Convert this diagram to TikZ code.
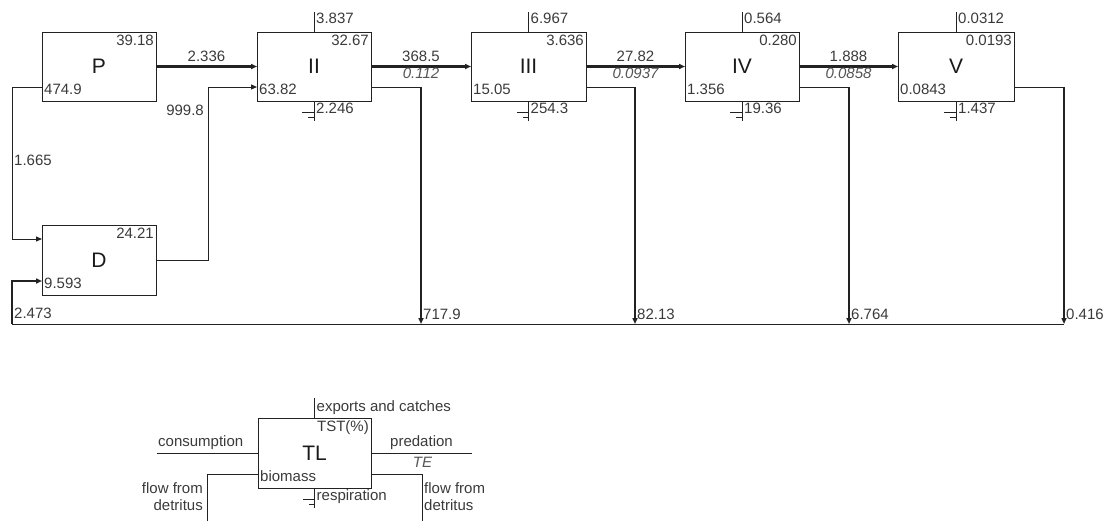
\documentclass[tikz,border=0pt]{standalone}
\usepackage{fontspec}
\setmainfont{Liberation Sans}
\usetikzlibrary{arrows.meta,calc}
\definecolor{linec}{HTML}{222222}
\definecolor{numc}{HTML}{3A3A3A}
\definecolor{effc}{HTML}{555555}
\definecolor{labc}{HTML}{1A1A1A}
\begin{document}
\begin{tikzpicture}[x=1pt,y=-1pt,
  box/.style={draw=linec, line width=1pt, minimum width=114pt, minimum height=69pt,
    inner sep=0pt, outer sep=0pt, font=\fontsize{21}{21}\selectfont, text=labc},
  num/.style={inner sep=0pt, font=\fontsize{15}{15}\selectfont, text=numc},
  eff/.style={inner sep=0pt, font=\fontsize{15}{15}\selectfont\itshape, text=effc},
  flow/.style={line width=2.8pt, draw=linec},
  thinline/.style={line width=1pt, draw=linec},
  tip/.style={-{Triangle[length=6pt,width=5pt]}},
]
\useasboundingbox (0,0) rectangle (1110,520);

% boxes
\node[box] (P) at (99,66.5) {P};
\node[box] (II) at (314,66.5) {II};
\node[box, minimum width=115pt] (III) at (528.5,66.5) {III};
\node[box] (IV) at (742,66.5) {IV};
\node[box, minimum width=116pt] (V) at (956,66.5) {V};
\node[box, minimum height=70pt] (D) at (99,260) {D};
\node[box, minimum width=113pt, minimum height=70pt] (TL) at (314.5,453) {TL};

% inner numbers (top right / bottom left)
\foreach \n/\t/\b in {P/39.18/474.9, II/32.67/63.82, III/3.636/15.05, IV/0.280/1.356, V/0.0193/0.0843, D/24.21/9.593}{
  \node[num, anchor=base east] at ([xshift=-2pt,yshift=-13pt]\n.north east) {\t};
  \node[num, anchor=base west] at ([xshift=2pt,yshift=7pt]\n.south west) {\b};
}

% exports and respiration
\foreach \n/\e/\r in {II/3.837/2.246, III/6.967/254.3, IV/0.564/19.36, V/0.0312/1.437}{
  \draw[thinline] (\n.north) -- ++(0,-20) coordinate (\n-ex);
  \node[num, anchor=base west] at ([xshift=2pt,yshift=-11pt]\n-ex) {\e};
  \draw[thinline] (\n.south) -- ++(0,20);
  \draw[thinline] ([yshift=-11pt]\n.south) -- ++(-12,0);
  \draw[thinline] ([yshift=-16pt]\n.south) -- ++(-6,0);
  \node[num, anchor=base west] at ([xshift=2pt,yshift=-12pt]\n.south) {\r};
}

% predation flows
\draw[flow,tip] (P.east) -- (II.west);
\draw[flow,tip] (II.east) -- (III.west);
\draw[flow,tip] (III.east) -- (IV.west);
\draw[flow,tip] (IV.east) -- (V.west);
\node[num, anchor=base] at ($(P.east)!0.5!(II.west)+(0,-5.5)$) {2.336};
\foreach \a/\b/\f/\te in {II/III/368.5/0.112, III/IV/27.82/0.0937, IV/V/1.888/0.0858}{
  \node[num, anchor=base] at ($(\a.east)!0.5!(\b.west)+(0,-5.5)$) {\f};
  \node[eff, anchor=base] at ($(\a.east)!0.5!(\b.west)+(0,11.5)$) {\te};
}

% detritus line
\coordinate (detL) at (12,324);
\coordinate (detR) at (1064,324);
\draw[thinline] (detR) -- (detL);
\draw[line width=1.8pt, draw=linec, tip] (detL) -- ++(0,-43) -- ([yshift=-21pt]D.west);
\node[num, anchor=base west] at (14,318) {2.473};

% flows to detritus
\foreach \n/\dx/\v in {II/50/717.9, III/49/82.13, IV/50/6.764, V/50/0.416}{
  \draw[thinline] ([yshift=-20.5pt]\n.east) -- ++(\dx,0) coordinate (\n-c);
  \draw[flow,tip] (\n-c) -- (\n-c |- detL);
  \node[num, anchor=base west] at ($(\n-c |- detL)+(2,-5)$) {\v};
}

% P to D, D to II
\draw[thinline,tip] ([yshift=-20.5pt]P.west) -- ++(-30,0) |- ([yshift=21pt]D.west);
\node[num, anchor=base west] at (14,165) {1.665};
\draw[thinline,tip] (D.east) -- ++(52,0) |- ([yshift=-20.5pt]II.west);
\node[num, anchor=base east] at (204,115) {999.8};

% legend
\node[num, anchor=base east] at ([xshift=-2pt,yshift=-13pt]TL.north east) {TST(\%)};
\node[num, anchor=base west] at ([xshift=2pt,yshift=7pt]TL.south west) {biomass};
\draw[thinline] (TL.north) -- ++(0,-20) coordinate (TL-ex);
\node[num, anchor=base west] at ([xshift=2pt,yshift=-13pt]TL-ex) {exports and catches};
\draw[thinline] (TL.south) -- ++(0,20);
\draw[thinline] ([yshift=-11pt]TL.south) -- ++(-12,0);
\draw[thinline] ([yshift=-16pt]TL.south) -- ++(-6,0);
\node[num, anchor=base west] at ([xshift=2pt,yshift=-12pt]TL.south) {respiration};
\draw[thinline] (TL.west) -- ++(-101,0) coordinate (TL-cons);
\node[num, anchor=base west] at ($(TL-cons)+(1,-7)$) {consumption};
\draw[thinline] (TL.east) -- ++(101,0) coordinate (TL-pred);
\node[num, anchor=base] at ($(TL.east)!0.5!(TL-pred)+(0,-7)$) {predation};
\node[eff, anchor=base] at ($(TL.east)!0.5!(TL-pred)+(1,14)$) {TE};
\draw[thinline] ([yshift=-21pt]TL.west) -- ++(-51,0) coordinate (TL-fl) -- ++(0,50);
\draw[thinline] ([yshift=-21pt]TL.east) -- ++(51,0) coordinate (TL-fr) -- ++(0,50);
\node[num, anchor=base east] at ($(TL-fl)+(-4,19)$) {flow from};
\node[num, anchor=base east] at ($(TL-fl)+(-4,36)$) {detritus};
\node[num, anchor=base west] at ($(TL-fr)+(2,19)$) {flow from};
\node[num, anchor=base west] at ($(TL-fr)+(2,36)$) {detritus};
\end{tikzpicture}
\end{document}
